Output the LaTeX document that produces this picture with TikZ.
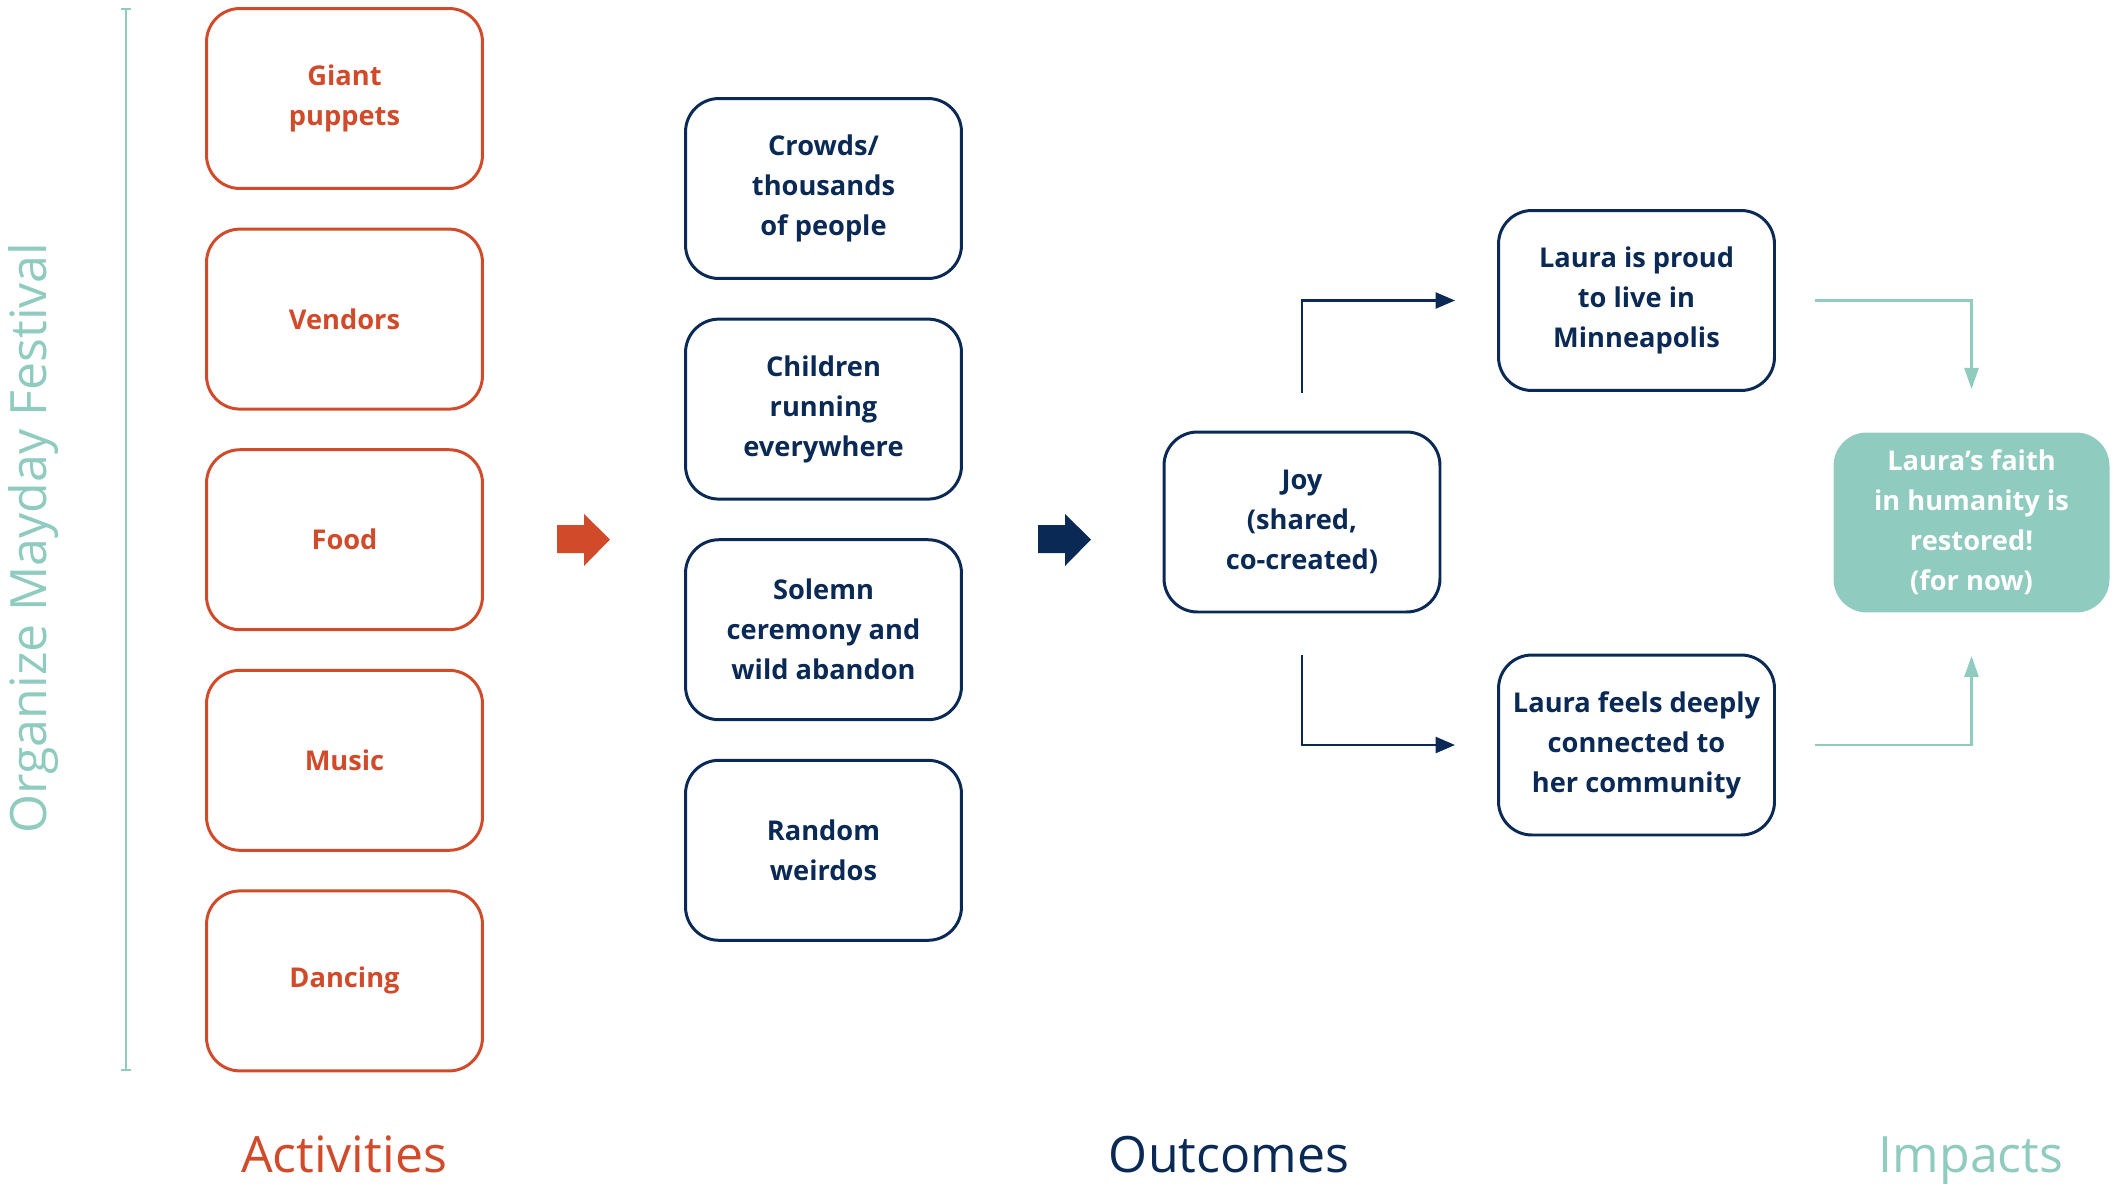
\documentclass[tikz,border=0pt]{standalone}
\usepackage{fontspec}
\setmainfont{Open Sans}
\usetikzlibrary{arrows.meta}

\definecolor{rust}{HTML}{D14B2A}
\definecolor{navy}{HTML}{0A2A55}
\definecolor{seafoam}{HTML}{8FCBBE}

\newcommand\boxfont{\fontsize{15.5}{22.8}\selectfont\bfseries}
\newcommand\headfont{\fontsize{28.5}{32}\selectfont}
\newcommand\sidefont{\fontsize{28.5}{32}\selectfont}

\tikzset{
  box/.style={draw, line width=1.7pt, rounded corners=19pt,
    minimum width=5.52cm, minimum height=3.6cm, align=center, font=\boxfont},
  actbox/.style={box, draw=rust, text=rust},
  outbox/.style={box, draw=navy, text=navy},
  impbox/.style={box, draw=none, fill=seafoam, text=white},
  heading/.style={anchor=base, font=\headfont},
  navylink/.style={navy, line width=1.5pt, -{Triangle[length=11pt,width=9pt]}},
  teallink/.style={seafoam, line width=1.5pt, -{Triangle[length=12pt,width=8pt]}}
}

\begin{document}
\begin{tikzpicture}[x=0.02cm,y=-0.02cm]
  \useasboundingbox (0,0) rectangle (2118,1187);
  \pgfmathsetmacro\actx{344.5}
  \pgfmathsetmacro\outx{823.5}
  \pgfmathsetmacro\rowstep{220.6}

% activities column
  \draw[seafoam,line width=1pt,{Bar[width=6pt]}-{Bar[width=6pt]}] (126,8) -- (126,1071);
  \node[rotate=90,text=seafoam,font=\sidefont] (goal) at (33,538) {Organize Mayday Festival};

  \node[actbox] (puppets) at (\actx,98.5) {Giant\\puppets};
  \node[actbox] (vendors) at (\actx,98.5+\rowstep) {Vendors};
  \node[actbox] (food)    at (\actx,98.5+2*\rowstep) {Food};
  \node[actbox] (music)   at (\actx,98.5+3*\rowstep) {Music};
  \node[actbox] (dancing) at (\actx,98.5+4*\rowstep) {Dancing};

% block arrows between the columns
  \fill[rust] (557,525) -- (584,525) -- (584,514) -- (610,539.5) -- (584,566) -- (584,553) -- (557,553) -- cycle;
  \fill[navy] (1038,525) -- (1065,525) -- (1065,514) -- (1091,539.5) -- (1065,566) -- (1065,553) -- (1038,553) -- cycle;

% outcomes
  \node[outbox] (crowds)   at (\outx,188.5) {Crowds/\\thousands\\of people};
  \node[outbox] (children) at (\outx,188.5+\rowstep) {Children\\running\\everywhere};
  \node[outbox] (solemn)   at (\outx,188.5+2*\rowstep) {Solemn\\ceremony and\\wild abandon};
  \node[outbox] (weirdos)  at (\outx,188.5+3*\rowstep) {Random\\weirdos};

  \node[outbox] (joy)   at (1302,522) {Joy\\(shared,\\co-created)};
  \node[outbox] (proud) at (1636.5,300.5) {Laura is proud\\to live in\\Minneapolis};
  \node[outbox] (feels) at (1636.5,745) {Laura feels deeply\\connected to\\her community};

% impact
  \node[impbox] (faith) at (1971.5,522.5) {Laura’s faith\\in humanity is\\restored!\\(for now)};

  \draw[navylink,shorten <=0.76cm,shorten >=0.84cm] (joy.north) |- (proud.west);
  \draw[navylink,shorten <=0.84cm,shorten >=0.84cm] (joy.south) |- (feels.west);
  \draw[teallink,shorten <=0.78cm,shorten >=0.84cm] (proud.east) -| (faith.north);
  \draw[teallink,shorten <=0.78cm,shorten >=0.84cm] (feels.east) -| (faith.south);

% column headings
  \node[heading,text=rust]    (acthead) at (344,1172)  {Activities};
  \node[heading,text=navy]    (outhead) at (1229,1172) {Outcomes};
  \node[heading,text=seafoam] (imphead) at (1971,1172) {Impacts};
\end{tikzpicture}
\end{document}
